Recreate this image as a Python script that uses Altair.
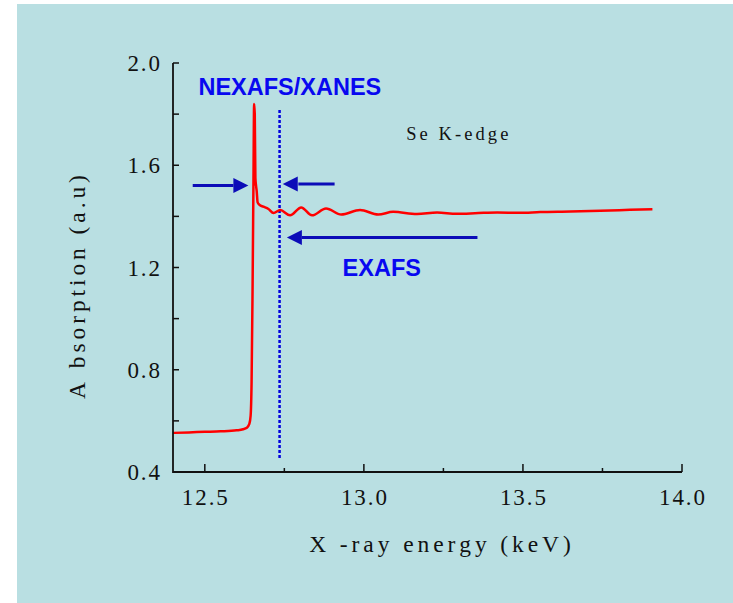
import altair as alt
import pandas as pd

# Se K-edge absorption spectrum
energy = [12.400, 12.450, 12.500, 12.550, 12.600, 12.620, 12.632, 12.640, 12.644,
          12.647, 12.650, 12.653, 12.655, 12.657, 12.659, 12.661, 12.663, 12.666,
          12.672, 12.684, 12.700, 12.716, 12.737, 12.768, 12.803, 12.837, 12.881,
          12.929, 12.988, 13.045, 13.092, 13.167, 13.230, 13.292, 13.360, 13.419,
          13.490, 13.554, 13.650, 13.743, 13.820, 13.907]
absorption = [0.553, 0.555, 0.557, 0.559, 0.563, 0.567, 0.573, 0.588, 0.620,
              0.750, 1.100, 1.550, 1.840, 1.800, 1.550, 1.520, 1.500, 1.455,
              1.445, 1.438, 1.429, 1.413, 1.425, 1.404, 1.435, 1.404, 1.431,
              1.407, 1.425, 1.407, 1.418, 1.409, 1.415, 1.410, 1.413, 1.415,
              1.414, 1.417, 1.419, 1.422, 1.425, 1.428]

# axis ticks
x_labels = [12.5, 13.0, 13.5, 14.0]
x_minor = [12.75, 13.25, 13.75]
y_labels = [0.4, 0.8, 1.2, 1.6, 2.0]
y_ticks = [0.6, 0.8, 1.0, 1.2, 1.4, 1.6, 1.8, 2.0]

x_title = "X -ray energy (keV)"
y_title = "A bsorption (a.u)"

# dotted boundary between NEXAFS and EXAFS regions
boundary_energy = [12.735]
boundary_low = [0.455]
boundary_high = [1.82]

# region arrows
arrow_tail = [12.462, 12.908, 13.357]
arrow_base = [12.590, 12.794, 12.805]
arrow_tip = [12.637, 12.745, 12.758]
arrow_level = [1.521, 1.527, 1.317]

# annotations
label_text = ["NEXAFS/XANES", "EXAFS"]
label_energy = [12.480, 12.933]
label_level = [1.876, 1.167]

note_text = ["Se K-edge"]
note_energy = [13.133]
note_level = [1.700]

BG = "#b9dfe2"
INK = "#111111"
BLUE_ARROW = "#0c0cb8"
BLUE_TEXT = "#0808f0"
W, H = 509, 409
PAD_L, PAD_T = 173, 63
XD = [12.4, 14.0]
YD = [0.4, 2.0]
SERIF = "'Liberation Serif', 'Times New Roman', Times, serif"
WIDE = "\u2006"   # six-per-em space used as letter spacing
NARROW = "\u200a"  # hair space for the tick labels


def spaced(s, gap=WIDE):
    return gap.join(list(s))


xs = alt.Scale(domain=XD, nice=False, zero=False)
ys = alt.Scale(domain=YD, nice=False, zero=False)


def X(field):
    return alt.X(field, scale=xs, axis=None)


def Y(field):
    return alt.Y(field, scale=ys, axis=None)


one = pd.DataFrame({"k": [0]})

# slide-coloured panel behind the plot
panel = alt.Chart(one).mark_rect(color=BG).encode(
    x=alt.value(17 - PAD_L), x2=alt.value(733 - PAD_L + 5),
    y=alt.value(4 - PAD_T), y2=alt.value(603 - PAD_T + 5)
)

curve = alt.Chart(pd.DataFrame({"E": energy, "A": absorption})).mark_line(
    color="#ff0000", strokeWidth=2.5, interpolate="monotone"
).encode(x=X("E:Q"), y=Y("A:Q"))

# axis lines, inward ticks and tick labels
x_domain = alt.Chart(one).mark_rule(color=INK, strokeWidth=1.8).encode(
    x=alt.value(0), x2=alt.value(W), y=alt.value(H))
y_domain = alt.Chart(one).mark_rule(color=INK, strokeWidth=1.8).encode(
    x=alt.value(0), y=alt.value(0), y2=alt.value(H + 1))

xt_major = alt.Chart(pd.DataFrame({"E": x_labels})).mark_rule(
    color=INK, strokeWidth=1.5).encode(
    x=X("E:Q"), y=alt.value(H), y2=alt.value(H - 8))
xt_minor = alt.Chart(pd.DataFrame({"E": x_minor})).mark_rule(
    color=INK, strokeWidth=1.5).encode(
    x=X("E:Q"), y=alt.value(H), y2=alt.value(H - 4))
yt = alt.Chart(pd.DataFrame({"A": y_ticks})).mark_rule(
    color=INK, strokeWidth=1.5).encode(
    y=Y("A:Q"), x=alt.value(0), x2=alt.value(6))

x_tick_text = alt.Chart(pd.DataFrame({
    "E": x_labels, "t": [spaced(f"{v:.1f}", NARROW) for v in x_labels]})).mark_text(
    font=SERIF, fontSize=23, color=INK, align="center", baseline="alphabetic").encode(
    x=X("E:Q"), y=alt.value(H + 33), text="t:N")
y_tick_text = alt.Chart(pd.DataFrame({
    "A": y_labels, "t": [spaced(f"{v:.1f}", NARROW) for v in y_labels]})).mark_text(
    font=SERIF, fontSize=23, color=INK, align="right", baseline="alphabetic", dy=8).encode(
    y=Y("A:Q"), x=alt.value(-13), text="t:N")

x_title_mark = alt.Chart(pd.DataFrame({"t": [spaced(x_title)]})).mark_text(
    font=SERIF, fontSize=23.5, color=INK, align="center", baseline="middle").encode(
    x=alt.value(267), y=alt.value(H + 73), text="t:N")
y_title_mark = alt.Chart(pd.DataFrame({"t": [spaced(y_title)]})).mark_text(
    font=SERIF, fontSize=23.5, color=INK, align="center", baseline="middle", angle=270).encode(
    x=alt.value(-95), y=alt.value(224), text="t:N")

boundary = alt.Chart(pd.DataFrame({
    "E": boundary_energy, "A": boundary_low, "A2": boundary_high})).mark_rule(
    color="#0000dd", strokeWidth=2.5, strokeDash=[3, 2]).encode(
    x=X("E:Q"), y=Y("A:Q"), y2="A2:Q")

arrows_df = pd.DataFrame({
    "E": arrow_tail, "E2": arrow_base, "T": arrow_tip, "A": arrow_level})
arrows_df["head"] = [
    "M0,0L-2,-1L-2,1Z" if t > s else "M0,0L2,-1L2,1Z"
    for s, t in zip(arrow_tail, arrow_tip)]

shafts = alt.Chart(arrows_df).mark_rule(color=BLUE_ARROW, strokeWidth=3).encode(
    x=X("E:Q"), x2="E2:Q", y=Y("A:Q"))
heads = alt.Chart(arrows_df).mark_point(
    filled=True, color=BLUE_ARROW, opacity=1, size=225, strokeWidth=0).encode(
    x=X("T:Q"), y=Y("A:Q"), shape=alt.Shape("head:N", scale=None))

labels = alt.Chart(pd.DataFrame({
    "t": label_text, "E": label_energy, "A": label_level})).mark_text(
    font="Liberation Sans", fontWeight="bold", fontSize=23.5, color=BLUE_TEXT,
    align="left", baseline="alphabetic").encode(
    x=X("E:Q"), y=Y("A:Q"), text="t:N")

note = alt.Chart(pd.DataFrame({
    "t": [spaced(s) for s in note_text], "E": note_energy, "A": note_level})).mark_text(
    font=SERIF, fontSize=18.5, color=INK, align="left", baseline="alphabetic").encode(
    x=X("E:Q"), y=Y("A:Q"), text="t:N")

chart = alt.layer(
    panel, boundary, curve, x_domain, y_domain, xt_major, xt_minor, yt,
    x_tick_text, y_tick_text, x_title_mark, y_title_mark,
    shafts, heads, labels, note
).properties(
    width=W, height=H,
    padding={"left": PAD_L, "top": PAD_T, "right": 733 - PAD_L - W, "bottom": 603 - PAD_T - H},
    autosize=alt.AutoSizeParams(type="none"),
    background="white",
).configure_view(stroke=None)

chart.save("out.html", embed_options={"renderer": "svg", "actions": False})
